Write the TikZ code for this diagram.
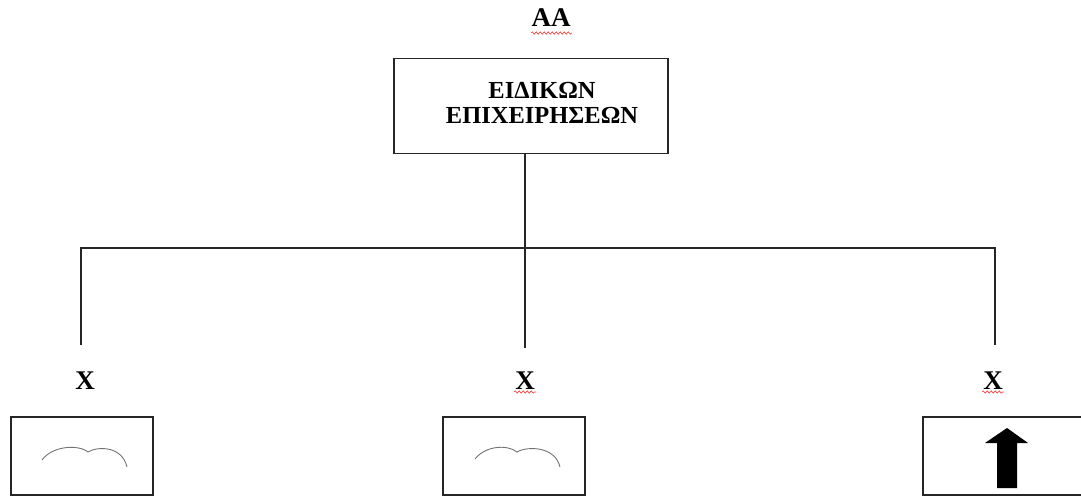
\documentclass[tikz,border=0pt]{standalone}
\usepackage{fontspec}
\setmainfont{Liberation Serif}
\usetikzlibrary{decorations.pathmorphing}
\begin{document}
\begin{tikzpicture}[x=1pt,y=-1pt,
  line/.style={line width=1.4pt,black!85},
  boxst/.style={draw,line width=1.4pt,black!85},
  lbl/.style={font=\bfseries\fontsize{27}{27}\selectfont,inner sep=0pt},
  boxtxt/.style={font=\bfseries\fontsize{24.5}{25}\selectfont,align=center,inner sep=0pt},
  squig/.style={draw=red!80,line width=0.6pt,decorate,decoration={snake,amplitude=1.2pt,segment length=4pt}},
  sketch/.style={draw=black!55,line width=0.9pt}]
\useasboundingbox (0,0) rectangle (1081,497);
% title
\node[lbl] (title) at (551,18) {ΑΑ};
\draw[squig] (531,33) -- (572,33);
% top box
\node[boxst,minimum width=274pt,minimum height=95pt,inner sep=0pt] (top) at (531,106) {};
\node[boxtxt] (toptxt) at (542,103) {ΕΙΔΙΚΩΝ\\ΕΠΙΧΕΙΡΗΣΕΩΝ};
% connectors
\coordinate (hj) at (525,248);
\coordinate (hl) at (81,248);
\coordinate (hr) at (995,248);
\coordinate (dl) at (81,345);
\coordinate (dm) at (525,348);
\coordinate (dr) at (995,345);
\draw[line] (top.south -| hj) -- (hj);
\draw[line] (dl) -- (hl) -- (hr) -- (dr);
\draw[line] (hj) -- (dm);
% labels
\node[lbl] (x1) at (85,381) {Χ};
\node[lbl] (x2) at (525,381) {Χ};
\draw[squig] (514,392) -- (536,392);
\node[lbl] (x3) at (993,381) {Χ};
\draw[squig] (982,392) -- (1004,392);
% bottom boxes
\draw[boxst] (11,417) rectangle (153,495);
\draw[boxst] (443,417) rectangle (585,495);
\draw[boxst] (923,417) rectangle (1090,495);
% sketches
\draw[sketch] (42,460) .. controls (52,446) and (78,444) .. (88,452)
  .. controls (98,446) and (122,446) .. (127,467);
\draw[sketch] (475,459) .. controls (485,446) and (507,444) .. (517,452)
  .. controls (527,446) and (555,446) .. (560,467);
\fill[black] (1007,428) -- (1028,443) -- (1017,443) -- (1017,488) -- (997,488) -- (997,443) -- (985,443) -- cycle;
\end{tikzpicture}
\end{document}
